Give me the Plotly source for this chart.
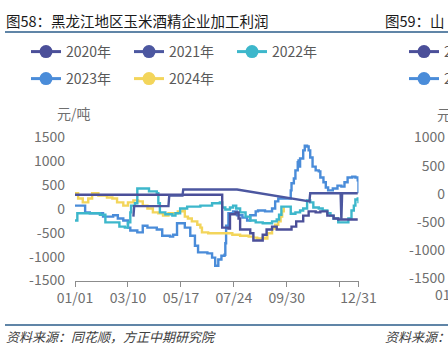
import plotly.graph_objects as go

# ---------------- data (day-of-year index, 元/吨) ----------------
tick_days = [0, 68, 136, 204, 272, 340, 364]
tick_text = ["01/01", "03/10", "05/17", "07/24", "09/30", "", "12/31"]
y_ticks = [-1500, -1000, -500, 0, 500, 1000, 1500]
y_tick_text = ["-1500", "-1000", "-500", "0", "500", "1000", "1500"]

days_2020 = [0, 188, 189, 197, 199, 206, 210, 212, 225, 229, 234, 241, 246, 253, 259,
             271, 278, 284, 293, 300, 309, 315, 324, 332, 338, 363]
vals_2020 = [300, 300, -390, -410, -110, -70, -200, -430, -510, -660, -660, -540, -430, -370, -430,
             -430, -370, -260, -140, -50, -70, -50, -140, -200, -220, -220]

days_2021 = [75, 76, 120, 121, 138, 139, 208, 296, 301, 302, 341, 342, 343, 363]
vals_2021 = [-160, 60, 60, 280, 280, 410, 410, 160, 160, 330, 330, -220, 330, 330]

days_2022 = [0, 3, 19, 32, 39, 54, 57, 64, 68, 71, 72, 77, 80, 93, 95, 105, 107, 109, 116, 125,
             129, 135, 144, 161, 176, 186, 189, 193, 199, 203, 207, 212, 219, 225, 232, 241, 247,
             253, 259, 262, 265, 271, 277, 283, 289, 293, 298, 302, 306, 313, 318, 324, 328, 332,
             338, 347, 351, 355, 358, 360, 363, 364]
vals_2022 = [-240, -90, -90, -120, -280, -280, -370, -390, -280, -70, 70, 120, 430, 430, 370, 330,
             120, -70, -110, -140, -90, 10, 50, 70, 120, 140, 30, -10, 30, 70, 10, -70, -160, -240,
             -280, -300, -300, -260, -220, -120, 50, 50, -100, -70, -30, 10, 180, 140, 30, 10, -30,
             -90, -140, -200, -280, -280, -200, -30, 70, 200, 220, 120]

days_2023 = [0, 13, 19, 36, 49, 55, 62, 68, 71, 80, 87, 93, 105, 112, 122, 126, 131, 141, 148,
             154, 158, 170, 176, 180, 184, 188, 192, 193, 194, 197, 203, 208, 215, 221, 225, 232,
             235, 244, 253, 257, 261, 274, 277, 278, 281, 283, 286, 287, 288, 289, 293, 295, 298,
             300, 302, 305, 309, 313, 315, 319, 322, 325, 331, 337, 342, 346, 350, 356, 360, 363, 364]
vals_2023 = [70, -70, -90, -160, -130, -200, -240, -390, -450, -490, -350, -390, -430, -560, -580,
             -540, -300, -390, -560, -770, -910, -930, -1020, -1190, -1060, -980, -960, -720, -350,
             -90, -50, -130, -180, -240, -130, -50, -30, -50, 10, 160, 220, 220, 390, 540, 640, 810,
             980, 1020, 890, 1060, 1230, 1330, 1310, 1230, 1080, 890, 810, 790, 660, 560, 450, 390,
             430, 490, 470, 560, 660, 680, 660, 600, 330]

days_2024 = [0, 4, 10, 17, 22, 30, 41, 48, 54, 62, 68, 75, 81, 87, 93, 100, 107, 113, 120, 126,
             132, 139, 141, 145, 150, 157, 161, 163, 171, 186, 202, 212, 223, 229, 234, 241, 244,
             247, 253, 257, 261, 264, 266, 268]
vals_2024 = [330, 220, 140, 220, 330, 280, 240, 220, 140, 70, 140, 180, 160, 70, 10, -70, -90,
             -140, -90, -90, -50, -30, -160, -200, -260, -330, -390, -490, -510, -510, -540, -560,
             -580, -600, -620, -600, -620, -510, -410, -330, -260, -160, -50, 50]

series = [
    ("2020年", days_2020, vals_2020, "#4B4F99", "hv"),
    ("2021年", days_2021, vals_2021, "#4C57A0", "linear"),
    ("2022年", days_2022, vals_2022, "#3DB7CB", "hv"),
    ("2023年", days_2023, vals_2023, "#4A8CD9", "hv"),
    ("2024年", days_2024, vals_2024, "#F3D55B", "hv"),
]

W, H = 448, 358
def px(x):
    return x / W
def py(y):
    return 1 - y / H

FONT = "Noto Sans CJK SC, Noto Sans, sans-serif"
GREY = "#6F6F6F"

fig = go.Figure()

for name, d, v, c, shape in [series[3], series[4], series[2], series[0], series[1]]:
    fig.add_trace(go.Scatter(x=d, y=v, mode="lines", line=dict(color=c, width=2.4, shape=shape),
                             showlegend=False, hoverinfo="skip"))

legend_of = {"2020年": "legend", "2021年": "legend", "2022年": "legend",
             "2023年": "legend2", "2024年": "legend2"}
for name, d, v, c, shape in series:
    fig.add_trace(go.Scatter(x=[None], y=[None], mode="lines+markers", name=name,
                             line=dict(color=c, width=3), marker=dict(size=13, color=c),
                             legend=legend_of[name]))

fig.add_trace(go.Scatter(x=[None], y=[None], mode="lines+markers", name="2020年",
                         line=dict(color="#4B4F99", width=3), marker=dict(size=13, color="#4B4F99"),
                         legend="legend3", xaxis="x2", yaxis="y2"))
fig.add_trace(go.Scatter(x=[None], y=[None], mode="lines+markers", name="2023年",
                         line=dict(color="#4A8CD9", width=3), marker=dict(size=13, color="#4A8CD9"),
                         legend="legend4", xaxis="x2", yaxis="y2"))

leg_common = dict(orientation="h", xanchor="left", yanchor="middle", entrywidth=58,
                  entrywidthmode="pixels", bgcolor="rgba(0,0,0,0)", itemwidth=30,
                  font=dict(family=FONT, size=14, color="#595959"))

LX = 26
fig.update_layout(
    width=W, height=H, margin=dict(l=0, r=0, t=0, b=0, autoexpand=False),
    paper_bgcolor="white", plot_bgcolor="white",
    font=dict(family=FONT, size=14, color=GREY),
    legend=dict(x=px(LX), y=py(52), **leg_common),
    legend2=dict(x=px(LX), y=py(79), **leg_common),
    legend3=dict(x=px(LX + 378), y=py(52), **leg_common),
    legend4=dict(x=px(LX + 378), y=py(79), **leg_common),
    xaxis=dict(domain=[px(75), px(358.5)], range=[0, 364], tickvals=tick_days, ticktext=tick_text,
               showgrid=False, zeroline=False, showline=True, linecolor="#8C8C8C", linewidth=1.2,
               ticks="outside", ticklen=5, tickcolor="#8C8C8C", tickwidth=1.2,
               tickfont=dict(family=FONT, size=14, color=GREY), anchor="y"),
    yaxis=dict(domain=[py(280.5), py(137.5)], range=[-1500, 1500], tickvals=y_ticks,
               ticktext=y_tick_text, showgrid=False, zeroline=False, showline=False, ticks="",
               ticklabelstandoff=9, tickfont=dict(family=FONT, size=14, color=GREY), anchor="x"),
    xaxis2=dict(domain=[px(446), 1], range=[0, 364], visible=False, anchor="y2"),
    yaxis2=dict(domain=[py(278.5), py(137.5)], range=[-1500, 1000], tickvals=y_ticks[:-1],
                ticktext=y_tick_text[:-1], showgrid=False, zeroline=False, showline=False,
                ticks="", ticklabelstandoff=0, tickfont=dict(family=FONT, size=14, color=GREY),
                anchor="x2"),
    shapes=[
        dict(type="line", xref="paper", yref="paper", x0=px(5), x1=1, y0=py(32), y1=py(32),
             line=dict(color="#2B5C8A", width=1.5)),
        dict(type="line", xref="paper", yref="paper", x0=px(5), x1=1, y0=py(325), y1=py(325),
             line=dict(color="#2B5C8A", width=1.5)),
    ],
    annotations=[
        dict(text="图58：黑龙江地区玉米酒精企业加工利润", x=px(4), y=py(21), xref="paper", yref="paper",
             xanchor="left", yanchor="middle", showarrow=False,
             font=dict(family=FONT, size=14.5, color="#1A1A1A")),
        dict(text="图59：山", x=px(383), y=py(21), xref="paper", yref="paper",
             xanchor="left", yanchor="middle", showarrow=False,
             font=dict(family=FONT, size=14.5, color="#1A1A1A")),
        dict(text="元/吨", x=px(55), y=py(113), xref="paper", yref="paper",
             xanchor="left", yanchor="middle", showarrow=False,
             font=dict(family=FONT, size=14, color=GREY)),
        dict(text="元/吨", x=px(435), y=py(114), xref="paper", yref="paper",
             xanchor="left", yanchor="middle", showarrow=False,
             font=dict(family=FONT, size=14, color=GREY)),
        dict(text="01/01", x=px(433), y=py(294), xref="paper", yref="paper",
             xanchor="left", yanchor="middle", showarrow=False,
             font=dict(family=FONT, size=14, color=GREY)),
        dict(text="资料来源：同花顺，方正中期研究院", x=px(4), y=py(336), xref="paper", yref="paper",
             xanchor="left", yanchor="middle", showarrow=False,
             font=dict(family=FONT, size=13, color="#404040", style="italic")),
        dict(text="资料来源：", x=px(383), y=py(336), xref="paper", yref="paper",
             xanchor="left", yanchor="middle", showarrow=False,
             font=dict(family=FONT, size=13, color="#404040", style="italic")),
    ],
)

fig.write_html("out.html", config={"displayModeBar": False},
               post_script="document.body.style.margin='0';document.body.style.overflow='hidden';")
